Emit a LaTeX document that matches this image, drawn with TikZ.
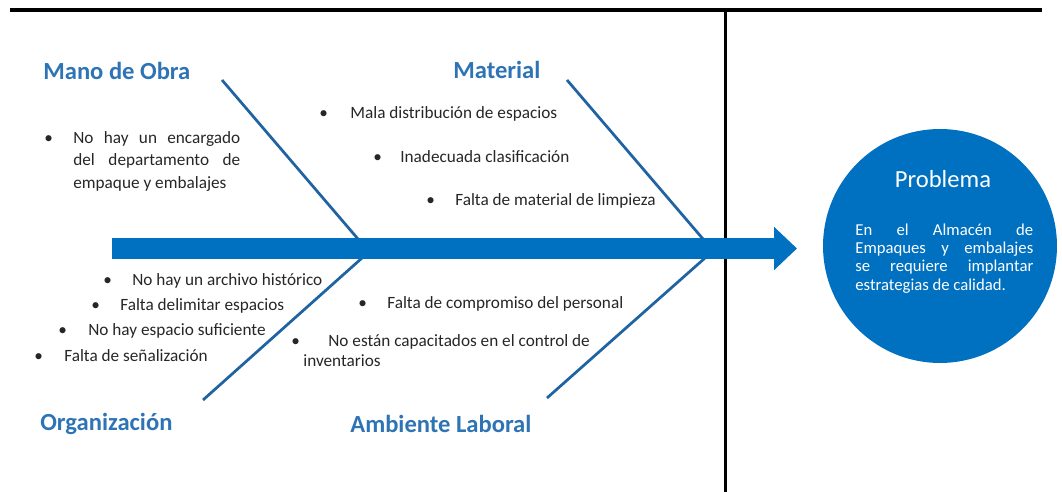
\documentclass[tikz,border=0pt]{standalone}
\usepackage{fontspec}
\setmainfont{Carlito}
\usetikzlibrary{arrows.meta}
\definecolor{spineblue}{HTML}{0070C0}
\definecolor{titleblue}{HTML}{2E74B5}
\definecolor{boneblue}{HTML}{1F63A3}
\definecolor{bodygray}{HTML}{262626}
\tikzset{
  frame/.style={line width=0.08cm, black},
  bone/.style={line width=0.055cm, boneblue},
  spine/.style={line width=0.42cm, spineblue, -{Triangle[length=0.46cm, width=0.84cm]}},
  cause/.style={font=\fontsize{14}{16}\selectfont\bfseries, text=titleblue, inner sep=0pt, anchor=base west},
  item/.style={font=\fontsize{9.8}{12}\selectfont, text=bodygray, inner sep=0pt, anchor=base west},
  probtext/.style={font=\fontsize{9.5}{11}\selectfont, text=white, inner sep=0pt, anchor=base west}
}
\newcommand{\blt}[1][0.58cm]{\makebox[#1][l]{\textbullet}}
\begin{document}
\begin{tikzpicture}[x=0.02cm, y=-0.02cm]
    \useasboundingbox (0,0) rectangle (1062,492);

    % frame lines
    \coordinate (frameL) at (10,10);
    \coordinate (frameR) at (1042,10);
    \coordinate (sepTop) at (725,10);
    \coordinate (sepBot) at (725,492);
    \draw[frame] (frameL) -- (frameR);
    \draw[frame, line width=0.06cm] (sepTop) -- (sepBot);

    % bones
    \coordinate (manoEnd) at (222,80);
    \coordinate (manoJoin) at (358,239);
    \coordinate (orgEnd) at (203,400);
    \coordinate (orgJoin) at (362,258);
    \coordinate (matEnd) at (567,80);
    \coordinate (matJoin) at (703,239);
    \coordinate (ambEnd) at (547,398);
    \coordinate (ambJoin) at (705,258);
    \draw[bone] (manoEnd) -- (manoJoin);
    \draw[bone] (orgEnd) -- (orgJoin);
    \draw[bone] (matEnd) -- (matJoin);
    \draw[bone] (ambEnd) -- (ambJoin);

    % spine
    \coordinate (tail) at (112,248.5);
    \coordinate (tip) at (797,248.5);
    \draw[spine] (tail) -- (tip);

    % cause titles
    \node[cause] (mano) at (43,80) {Mano de Obra};
    \node[cause] (material) at (453,79) {Material};
    \node[cause] (organizacion) at (40,431) {Organización};
    \node[cause] (ambiente) at (350,433) {Ambiente Laboral};

    % Mano de Obra
    \node[item] (mano1) at (44,144) {\blt\makebox[3.34cm][s]{No hay un encargado}};
    \node[item] (mano2) at (73,166) {\makebox[3.34cm][s]{del departamento de}};
    \node[item] (mano3) at (73,189) {empaque y embalajes};

    % Material
    \node[item] (mat1) at (319,119) {\blt[0.62cm]Mala distribución de espacios};
    \node[item] (mat2) at (373,163) {\blt[0.54cm]Inadecuada clasificación};
    \node[item] (mat3) at (426,206) {\blt Falta de material de limpieza};

    % Organizacion
    \node[item] (org1) at (103,286) {\blt No hay un archivo histórico};
    \node[item] (org2) at (91,311) {\blt Falta delimitar espacios};
    \node[item] (org3) at (58,336) {\blt[0.6cm]No hay espacio suficiente};
    \node[item] (org4) at (34,362) {\blt[0.6cm]Falta de señalización};

    % Ambiente Laboral
    \node[item] (amb1) at (358,309) {\blt Falta de compromiso del personal};
    \node[item] (amb2) at (291,347) {\blt[0.74cm]No están capacitados en el control de};
    \node[item] (amb3) at (303,367) {inventarios};

    % problem head
    \node[circle, fill=spineblue, minimum size=4.68cm, inner sep=0pt] (problema) at (940,246) {};
    \node[font=\fontsize{14}{16}\selectfont, text=white, anchor=base, inner sep=0pt] (probTitle) at (943,188) {Problema};
    \node[probtext] (prob1) at (855,236) {\makebox[3.56cm][s]{En el Almacén de}};
    \node[probtext] (prob2) at (855,254) {\makebox[3.56cm][s]{Empaques y embalajes}};
    \node[probtext] (prob3) at (855,272) {\makebox[3.56cm][s]{se requiere implantar}};
    \node[probtext] (prob4) at (855,291) {estrategias de calidad.};
\end{tikzpicture}
\end{document}
